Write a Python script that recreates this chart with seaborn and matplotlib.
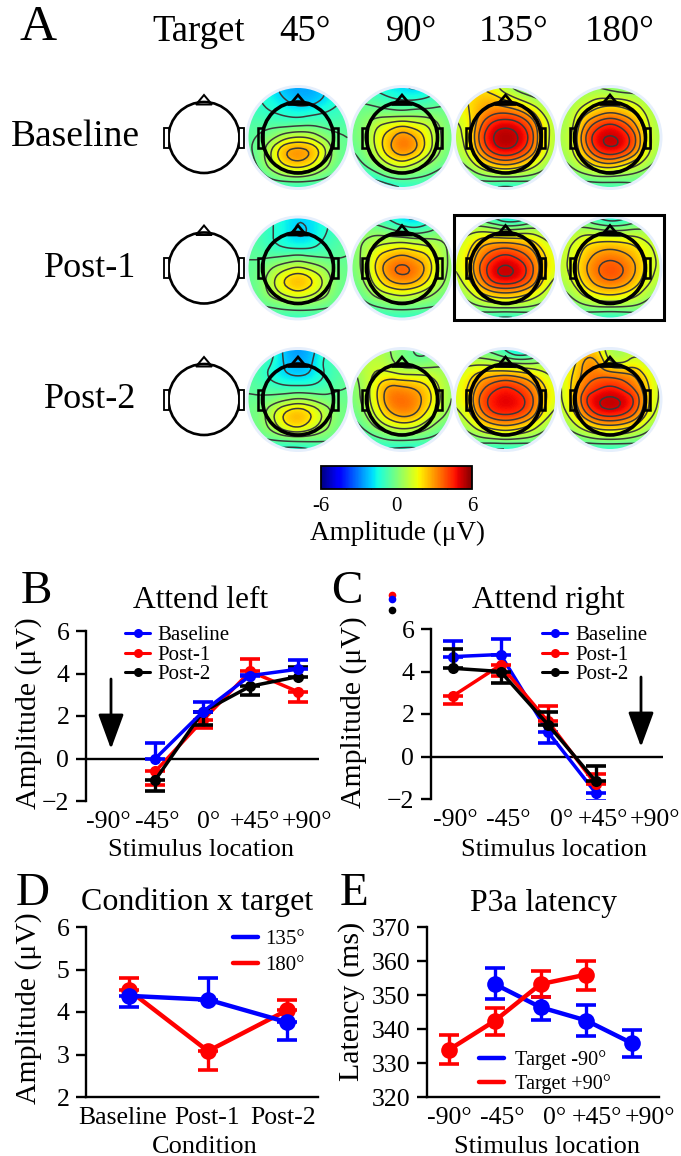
import numpy as np
import pandas as pd
import matplotlib
matplotlib.use('Agg')
import matplotlib.pyplot as plt
import seaborn as sns
from matplotlib.cm import ScalarMappable
from matplotlib.colors import Normalize
from matplotlib.lines import Line2D
from matplotlib.patches import Circle, Polygon, Rectangle

# panel A: amplitude, rows run from nose to back of head
b45 = [[-1.0,-1.4,-1.8,-2.4,-2.6,-2.6,-2.2,-1.6,-1.0],
       [-0.9,-1.2,-1.6,-2.0,-2.4,-2.4,-2.0,-1.4,-1.0],
       [-0.8,-1.0,-1.2,-1.4,-1.6,-1.4,-1.2,-1.0,-0.8],
       [-0.6,-0.6,-0.6,-0.7,-0.6,-0.5,-0.6,-0.7,-0.6],
       [-0.5,-0.3, 0.2, 1.0, 1.3, 1.1, 0.3,-0.2,-0.4],
       [-0.5,-0.1, 1.6, 3.0, 3.3, 3.0, 1.8,-0.1,-0.4],
       [-0.7,-0.1, 1.4, 2.6, 3.0, 2.5, 1.2,-0.1,-0.5],
       [-1.0,-0.6, 0.0, 0.6, 0.8, 0.5,-0.1,-0.5,-0.8],
       [-1.2,-1.0,-1.0,-1.2,-1.2,-1.2,-1.0,-1.0,-1.0]]
b90 = [[-0.8,-1.0,-1.4,-1.8,-2.0,-2.2,-2.0,-1.2,-0.8],
       [-0.4,-0.5,-0.7,-1.0,-1.2,-1.2,-1.0,-0.7,-0.5],
       [-0.2,-0.1,-0.1,-0.2,-0.3,-0.1,-0.1,-0.1,-0.2],
       [-0.2, 0.2, 1.2, 1.6, 2.0, 1.6, 1.3, 0.4,-0.2],
       [-0.2, 0.3, 1.6, 2.6, 3.6, 3.0, 1.8, 0.5,-0.2],
       [-0.4, 0.1, 1.4, 2.8, 3.6, 3.2, 1.7, 0.5,-0.3],
       [-0.8,-0.2, 0.6, 1.5, 2.0, 1.4, 0.6, 0.0,-0.5],
       [-1.4,-1.1,-0.6, 0.0, 0.2,-0.1,-0.4,-0.7,-1.0],
       [-2.0,-2.0,-1.9,-1.6,-1.3,-1.2,-1.0,-1.0,-1.0]]
b135 = [[ 1.8, 1.8, 2.0, 1.5, 0.6, 0.0,-0.2,-0.2,-0.2],
        [ 1.8, 2.0, 2.5, 2.6, 2.0, 1.3, 0.7, 0.3, 0.0],
        [ 1.4, 1.9, 2.8, 3.4, 3.6, 3.3, 2.4, 1.1, 0.5],
        [ 1.0, 1.6, 3.6, 4.9, 5.2, 4.9, 3.8, 1.8, 0.7],
        [ 0.8, 1.6, 4.2, 5.4, 5.6, 5.4, 4.4, 1.8, 0.7],
        [ 0.6, 1.4, 3.6, 5.0, 5.4, 5.0, 3.8, 1.7, 0.6],
        [ 0.1, 0.8, 2.0, 3.0, 3.4, 3.0, 2.0, 1.0, 0.2],
        [-0.5,-0.2, 0.4, 0.8, 0.9, 0.8, 0.5, 0.1,-0.3],
        [-1.0,-1.0,-1.2,-1.4,-1.6,-1.4,-1.2,-0.8,-0.6]]
b180 = [[-0.1, 0.0, 0.2, 0.3, 0.1,-0.2,-0.1, 0.0,-0.1],
        [ 0.2, 0.5, 0.9, 1.4, 1.4, 1.4, 1.0, 0.5, 0.2],
        [ 0.4, 0.9, 1.8, 2.4, 2.8, 2.5, 2.0, 1.0, 0.5],
        [ 0.5, 1.0, 3.0, 4.2, 4.8, 4.2, 3.0, 1.3, 0.5],
        [ 0.6, 1.2, 3.8, 5.2, 5.4, 5.2, 4.0, 1.5, 0.6],
        [ 0.5, 1.1, 3.2, 4.8, 5.3, 5.0, 3.6, 1.5, 0.5],
        [ 0.2, 0.7, 1.7, 2.8, 3.2, 2.6, 1.7, 0.8, 0.1],
        [-0.3, 0.0, 0.3, 0.6, 0.6, 0.4, 0.2,-0.1,-0.3],
        [-0.6,-0.8,-1.0,-1.0,-1.0,-0.9,-0.7,-0.6,-0.5]]
p45 = [[-0.6,-0.8,-1.2,-1.6,-2.0,-1.8,-1.4,-1.0,-0.6],
       [-0.4,-0.8,-1.2,-1.6,-2.2,-2.0,-1.4,-0.9,-0.5],
       [-0.4,-0.8,-1.2,-1.6,-1.9,-1.7,-1.1,-0.7,-0.4],
       [-0.4,-0.5,-0.6,-0.5,-0.3,-0.5,-0.6,-0.5,-0.4],
       [-0.4,-0.2, 0.5, 1.0, 1.4, 1.0, 0.5,-0.1,-0.3],
       [-0.4, 0.0, 1.2, 2.4, 3.0, 2.4, 1.3, 0.0,-0.3],
       [-0.6,-0.1, 0.9, 1.6, 2.0, 1.6, 0.9,-0.1,-0.5],
       [-0.8,-0.4,-0.3, 0.0, 0.2, 0.0,-0.2,-0.4,-0.7],
       [-0.9,-0.8,-0.9,-1.1,-1.2,-1.0,-0.9,-0.8,-0.8]]
p90 = [[-0.4,-0.6,-0.9,-1.4,-2.0,-2.3,-1.8,-0.9,-0.5],
       [-0.1, 0.1, 0.1,-0.2,-0.6,-0.9,-0.6,-0.1, 0.0],
       [ 0.1, 0.5, 1.0, 1.2, 1.4, 1.2, 1.0, 0.6, 0.2],
       [-0.1, 0.7, 2.0, 2.6, 3.0, 2.6, 2.2, 1.0, 0.1],
       [-0.1, 0.7, 2.4, 3.6, 4.0, 3.6, 2.8, 1.0, 0.1],
       [-0.3, 0.5, 1.8, 3.0, 3.4, 3.2, 2.2, 0.8, 0.0],
       [-0.6, 0.0, 0.9, 1.3, 1.6, 1.3, 0.8, 0.2,-0.3],
       [-1.0,-0.6,-0.3, 0.0, 0.1, 0.0,-0.2,-0.4,-0.7],
       [-1.2,-1.2,-1.2,-1.2,-1.2,-1.2,-1.2,-1.0,-0.9]]
p135 = [[-0.3,-0.5,-0.8,-1.4,-2.0,-2.0,-1.2,-0.6,-0.3],
        [ 0.6, 1.0, 1.2, 1.0, 0.6, 0.8, 0.9, 0.6, 0.3],
        [ 1.2, 1.6, 2.6, 2.9, 3.0, 2.8, 2.5, 1.6, 1.0],
        [ 1.2, 2.0, 3.3, 4.2, 4.7, 4.2, 3.4, 2.2, 1.4],
        [ 1.2, 2.2, 3.9, 5.2, 5.5, 5.2, 4.2, 2.3, 1.4],
        [ 0.8, 1.8, 3.4, 4.9, 5.2, 4.9, 3.8, 2.0, 1.0],
        [ 0.2, 1.0, 2.0, 2.6, 2.8, 2.6, 2.0, 1.2, 0.4],
        [-0.4, 0.1, 0.6, 0.9, 1.0, 0.9, 0.6, 0.2,-0.2],
        [-1.0,-1.0,-1.2,-1.4,-1.6,-1.4,-1.1,-0.8,-0.6]]
p180 = [[-0.2,-0.4,-0.7,-1.4,-1.8,-1.6,-1.0,-0.5,-0.2],
        [ 0.4, 0.7, 0.9, 0.7, 0.5, 0.5, 0.7, 0.5, 0.2],
        [ 0.9, 1.2, 1.9, 2.2, 2.3, 2.2, 1.9, 1.3, 0.8],
        [ 0.9, 1.4, 2.4, 3.1, 3.4, 3.1, 2.6, 1.6, 1.0],
        [ 0.9, 1.5, 2.8, 3.7, 4.1, 3.8, 3.0, 1.7, 1.0],
        [ 0.6, 1.3, 2.4, 3.4, 3.8, 3.5, 2.6, 1.5, 0.7],
        [ 0.1, 0.7, 1.6, 2.1, 2.3, 2.1, 1.6, 0.8, 0.2],
        [-0.4, 0.0, 0.4, 0.7, 0.8, 0.7, 0.5, 0.1,-0.2],
        [-1.0,-1.0,-1.0,-1.3,-1.5,-1.3,-1.0,-0.8,-0.6]]
q45 = [[-0.6,-0.7,-1.0,-2.4,-2.8,-2.4,-1.4,-0.8,-0.6],
       [-0.5,-0.8,-1.2,-2.2,-2.6,-2.2,-1.1,-0.7,-0.5],
       [-0.5,-0.9,-1.6,-2.0,-2.2,-2.0,-1.3,-0.7,-0.4],
       [-0.5,-0.6,-0.9,-1.1,-1.1,-1.1,-0.9,-0.5,-0.4],
       [-0.3,-0.3,-0.1, 0.2, 0.5, 0.3,-0.1,-0.2,-0.3],
       [-0.2, 0.0, 1.2, 2.3, 2.8, 2.2, 1.2, 0.1,-0.2],
       [-0.3, 0.0, 1.0, 2.2, 2.7, 1.9, 1.0, 0.0,-0.3],
       [-0.6,-0.3, 0.0, 0.3, 0.4, 0.3, 0.0,-0.2,-0.4],
       [-1.2,-1.2,-1.4,-1.6,-1.6,-1.4,-1.0,-0.8,-0.7]]
q90 = [[ 0.6, 0.7, 0.8, 0.4, 0.0,-0.5,-0.6,-0.2, 0.1],
       [ 0.5, 0.9, 1.0, 0.6,-0.2,-0.3,-0.2, 0.2, 0.3],
       [ 0.2, 0.8, 1.4, 1.4, 1.2, 1.2, 1.2, 0.8, 0.4],
       [ 0.0, 0.7, 2.0, 3.2, 3.0, 2.8, 2.2, 1.2, 0.3],
       [-0.1, 0.7, 2.0, 3.6, 3.7, 3.4, 2.5, 1.3, 0.3],
       [-0.3, 0.4, 1.6, 2.9, 3.5, 3.2, 2.0, 1.0, 0.1],
       [-0.7,-0.1, 0.8, 1.5, 1.9, 1.7, 0.9, 0.1,-0.4],
       [-1.1,-0.8,-0.4, 0.0, 0.1, 0.0,-0.3,-0.6,-1.0],
       [-1.3,-1.3,-1.4,-1.4,-1.5,-1.5,-1.2,-1.1,-1.0]]
q135 = [[-0.3,-0.4,-0.5,-0.8,-1.4,-2.4,-2.0,-0.6,-0.2],
        [ 0.8, 1.0, 0.9, 0.7, 0.3, 0.2, 0.2, 0.4, 0.4],
        [ 1.4, 1.7, 2.4, 2.6, 2.8, 2.6, 2.2, 1.5, 1.0],
        [ 1.4, 2.0, 3.3, 4.2, 4.7, 4.2, 3.4, 2.2, 1.4],
        [ 1.3, 2.2, 4.0, 4.9, 5.0, 4.9, 4.2, 2.3, 1.4],
        [ 1.0, 1.8, 3.6, 4.7, 4.9, 4.7, 3.8, 2.0, 1.0],
        [ 0.3, 1.0, 2.1, 2.8, 3.1, 2.8, 2.1, 1.0, 0.3],
        [-0.4, 0.0, 0.5, 0.8, 1.0, 0.8, 0.5, 0.0,-0.4],
        [-1.0,-1.0,-1.2,-1.5,-1.5,-1.4,-1.2,-0.9,-0.8]]
q180 = [[ 1.0, 1.2, 2.4, 2.2, 0.4, 0.4, 1.0, 0.6, 0.3],
        [ 1.2, 1.6, 3.2, 3.0, 1.0, 0.9, 1.6, 1.0, 0.6],
        [ 1.2, 2.0, 3.2, 3.4, 3.4, 3.2, 2.8, 1.8, 1.0],
        [ 1.0, 2.2, 3.6, 4.2, 4.6, 4.2, 3.4, 2.2, 1.0],
        [ 1.0, 2.2, 4.6, 5.3, 5.5, 5.3, 4.6, 2.2, 1.0],
        [ 0.8, 1.8, 3.8, 5.0, 5.3, 5.0, 4.0, 2.0, 0.8],
        [ 0.2, 1.0, 2.0, 2.8, 3.0, 2.8, 2.2, 1.0, 0.2],
        [-0.4, 0.0, 0.4, 0.8, 0.9, 0.8, 0.4, 0.0,-0.4],
        [-0.9,-1.0,-1.2,-1.3,-1.3,-1.3,-1.1,-0.8,-0.6]]

locations = ['-90°', '-45°', '0°', '+45°', '+90°']
conditions = ['Baseline', 'Post-1', 'Post-2']

# panel B, x is the index into locations
left_x = [1, 2, 3, 4]
left_base = [0.0, 2.2, 3.9, 4.2]
left_base_cap = [0.75, 2.65, 3.95, 4.65]
left_post1 = [-0.6, 1.8, 4.1, 3.15]
left_post1_cap = [-1.25, 1.45, 4.7, 2.65]
left_post2 = [-1.0, 2.2, 3.4, 3.85]
left_post2_cap = [-1.55, 1.6, 3.0, 4.3]

# panel C
right_x = [0, 1, 2, 3]
right_base = [4.7, 4.8, 1.15, -1.7]
right_base_cap = [5.45, 5.55, 0.65, -2.1]
right_post1 = [2.85, 4.3, 1.65, -1.3]
right_post1_cap = [2.45, 3.8, 2.4, -0.8]
right_post2 = [4.15, 4.0, 1.5, -1.15]
right_post2_cap = [5.05, 3.45, 2.1, -0.45]

# panel D
cond_135 = [4.38, 4.29, 3.76]
cond_135_cap = [4.12, 4.81, 3.33]
cond_180 = [4.51, 3.08, 4.04]
cond_180_cap = [4.81, 2.63, 4.29]

# panel E
lat_minus_x = [1, 2, 3, 4]
lat_minus = [353.2, 346.4, 342.5, 335.8]
lat_minus_hi = [358.0, 349.5, 347.0, 339.7]
lat_minus_lo = [348.7, 342.7, 338.0, 331.9]
lat_plus_x = [0, 1, 2, 3]
lat_plus = [333.9, 342.4, 353.2, 356.0]
lat_plus_hi = [338.3, 346.3, 357.1, 360.0]
lat_plus_lo = [329.7, 338.3, 349.5, 351.6]

W, H = 681, 1156
BLUE, RED = '#0000ff', '#ff0000'

sns.set_theme(style='ticks')
plt.rcParams['font.family'] = ['Liberation Serif', 'DejaVu Serif']
plt.rcParams['text.color'] = 'black'
plt.rcParams['axes.labelcolor'] = 'black'
plt.rcParams['xtick.color'] = 'black'
plt.rcParams['ytick.color'] = 'black'
plt.rcParams['axes.edgecolor'] = 'black'

fig = plt.figure(figsize=(W / 100, H / 100), dpi=100, facecolor='white')

# full page axes in pixels, y going down, for panel A and the loose text
ov = fig.add_axes([0, 0, 1, 1], zorder=5)
ov.set_xlim(0, W)
ov.set_ylim(H, 0)
ov.axis('off')


def draw_head(cx, cy, lw):
    ov.add_patch(Polygon([[cx - 8, cy - 33], [cx, cy - 42.5], [cx + 8, cy - 33]], closed=True,
                         fc='none', ec='black', lw=lw * 0.75, zorder=6))
    ov.add_patch(Circle((cx, cy), 35.5, fc='none', ec='black', lw=lw, zorder=6))
    for side in (-1, 1):
        ex = cx + side * 37.5
        ov.add_patch(Rectangle((ex - 2.3, cy - 10), 4.6, 20, fc='white' if lw < 2.2 else 'none',
                               ec='black', lw=lw * 0.7, zorder=6))


def soften(grid):
    # only so the contour lines come out round instead of angular, like bicubic on the image
    nodes = np.arange(9)
    fine = np.linspace(0, 8, 41)
    out = np.array([np.interp(fine, nodes, r) for r in grid])
    out = np.array([np.interp(fine, nodes, c) for c in out.T]).T
    kernel = np.ones(5) / 5
    pad = np.pad(out, 2, mode='edge')
    pad = np.apply_along_axis(lambda v: np.convolve(v, kernel, mode='same'), 0, pad)
    pad = np.apply_along_axis(lambda v: np.convolve(v, kernel, mode='same'), 1, pad)
    return pad[2:-2, 2:-2]


def draw_map(grid, cx, cy, r=49.5):
    grid = np.array(grid)
    ov.add_patch(Circle((cx, cy), r + 3, fc='#e6effc', ec='none', zorder=1))
    clip = Circle((cx, cy), r, fc='none', ec='none', transform=ov.transData)
    ov.add_patch(clip)
    step = r / 4
    im = ov.imshow(grid, cmap='jet', vmin=-6, vmax=6, interpolation='bicubic', aspect='auto',
                   extent=(cx - r - step / 2, cx + r + step / 2, cy + r + step / 2, cy - r - step / 2),
                   zorder=2)
    im.set_clip_path(clip)
    gx = np.linspace(cx - r, cx + r, 41)
    gy = np.linspace(cy - r, cy + r, 41)
    cs = ov.contour(gx, gy, soften(grid), levels=[-2, -1.2, -0.4, 0.4, 1.2, 2, 2.8, 3.6, 4.4, 5.2],
                    colors='#3a3a3a', linewidths=1.1, negative_linestyles='solid', zorder=3)
    cs.set_clip_path(clip)
    draw_head(cx, cy, 2.6)


row_y = [137.5, 268, 399.5]
col_x = [298, 402, 505.5, 610]
maps = [[b45, b90, b135, b180], [p45, p90, p135, p180], [q45, q90, q135, q180]]
for i, row in enumerate(maps):
    draw_head(204, row_y[i], 1.9)
    for j, grid in enumerate(row):
        draw_map(grid, col_x[j], row_y[i])

ov.add_patch(Rectangle((454, 215), 210, 105, fc='none', ec='black', lw=2.2, zorder=7))

# header and row names
for x, s in zip([199, 305, 411, 514, 620], ['Target', '45°', '90°', '135°', '180°']):
    ov.text(x, 41, s, fontsize=26.5, ha='center', va='baseline')
for y, s, x, fs in zip([146, 277, 408], ['Baseline', 'Post-1', 'Post-2'], [140, 136, 136], [27, 26, 26]):
    ov.text(x, y, s, fontsize=fs, ha='right', va='baseline')
for x, y, s, fs in zip([20, 21, 331, 16, 340], [40, 603, 603, 905, 905], ['A', 'B', 'C', 'D', 'E'],
                       [37, 34, 34, 34, 34]):
    ov.text(x, y, s, fontsize=fs, ha='left', va='baseline')

# colorbar
cax = fig.add_axes([321 / W, 1 - 489 / H, 151 / W, 23 / H])
cb = fig.colorbar(ScalarMappable(Normalize(-6, 6), 'jet'), cax=cax, orientation='horizontal')
cb.outline.set_linewidth(1.3)
cb.set_ticks([-6, 0, 6], labels=['-6', '0', '6'])
cax.set_xticks([-4, -2, 0, 2, 4], minor=True)
cax.tick_params(axis='x', which='major', length=0, labelsize=15, pad=6)
cax.tick_params(axis='x', which='minor', direction='in', length=2.5, width=1, top=True, bottom=True)
ov.text(397, 540, 'Amplitude (μV)', fontsize=19.5, ha='center', va='baseline')


def add_panel(left, right, top, bottom, first_px, step_px, ylim, yticks, label_px, labels, zero_line):
    ax = fig.add_axes([left / W, 1 - bottom / H, (right - left) / W, (bottom - top) / H])
    ax.set_xlim((left - first_px) / step_px, (right - first_px) / step_px)
    ax.set_ylim(*ylim)
    ax.set_yticks(yticks)
    ax.set_xticks((np.array(label_px) - first_px) / step_px, labels)
    ax.tick_params(axis='y', length=7, width=1.7, pad=5, labelsize=18.5)
    ax.tick_params(axis='x', length=0, pad=7, labelsize=18.5)
    sns.despine(ax=ax)
    ax.spines['left'].set_linewidth(1.7)
    ax.spines['bottom'].set_linewidth(1.7)
    if zero_line:
        ax.spines['bottom'].set_visible(False)
        ax.axhline(0, color='black', lw=1.7, zorder=1)
    ax.patch.set_alpha(0)
    return ax


def draw_series(ax, xs, ys, lo, hi, color, ms, lw):
    ys, lo, hi = np.array(ys), np.array(lo), np.array(hi)
    df = pd.DataFrame({'x': xs, 'y': ys})
    ax.errorbar(xs, ys, yerr=[ys - lo, hi - ys], fmt='none', ecolor=color, elinewidth=2.4,
                capsize=7.2, capthick=2.6)
    sns.lineplot(data=df, x='x', y='y', color=color, marker='o', markersize=ms, lw=lw, ax=ax,
                 errorbar=None, sort=False, markeredgewidth=0, markeredgecolor=color)
    ax.set_xlabel('')
    ax.set_ylabel('')


def one_sided(vals, caps):
    return np.minimum(vals, caps), np.maximum(vals, caps)


def arrow(ax, x, y0, y1):
    ax.annotate('', xy=(x, y1), xytext=(x, y0), xycoords=ov.transData, textcoords=ov.transData,
                arrowprops=dict(arrowstyle='-|>,head_length=1.2,head_width=0.44', color='black', lw=2,
                                mutation_scale=18, shrinkA=0, shrinkB=0))


def line_legend(ax, handles, labels, x, y, fontsize, textpad, spacing):
    ax.legend(handles, labels, loc='center left', bbox_to_anchor=(x, y), bbox_transform=ov.transData,
              frameon=False, borderpad=0, borderaxespad=0, handlelength=25 / (fontsize / 0.72),
              handletextpad=textpad / (fontsize / 0.72), labelspacing=spacing, fontsize=fontsize)


def marker_handles():
    return [Line2D([], [], color=c, lw=2.2, marker='o', ms=6.5, mew=0) for c in (BLUE, RED, 'black')]


# B
ax_b = add_panel(86, 319, 631, 801, 108, 47.4, (-2, 6), [-2, 0, 2, 4, 6],
                 [108, 157, 209, 255, 307], locations, True)
draw_series(ax_b, left_x, left_post1, *one_sided(left_post1, left_post1_cap), RED, 8, 2.5)
draw_series(ax_b, left_x, left_post2, *one_sided(left_post2, left_post2_cap), 'black', 8, 2.5)
draw_series(ax_b, left_x, left_base, *one_sided(left_base, left_base_cap), BLUE, 8, 2.5)
arrow(ax_b, 111, 679, 749)
line_legend(ax_b, marker_handles(), conditions, 125, 655, 15, 7, 0.0)

# C
ax_c = add_panel(431, 663, 629, 799, 453, 47.5, (-2, 6), [-2, 0, 2, 4, 6],
                 [455, 508, 562, 603, 655], locations, True)
draw_series(ax_c, right_x, right_base, *one_sided(right_base, right_base_cap), BLUE, 8, 2.5)
draw_series(ax_c, right_x, right_post1, *one_sided(right_post1, right_post1_cap), RED, 8, 2.5)
draw_series(ax_c, right_x, right_post2, *one_sided(right_post2, right_post2_cap), 'black', 8, 2.5)
arrow(ax_c, 641, 677, 747)
line_legend(ax_c, marker_handles(), conditions, 542, 655, 15, 8, 0.0)

# stray legend dots next to panel C
for y, c in zip([595, 599, 610], [RED, BLUE, 'black']):
    ov.plot([392], [y], 'o', color=c, ms=5.5, mew=0)

# D
ax_d = add_panel(86, 318, 927, 1097, 129, 79, (2, 6), [2, 3, 4, 5, 6],
                 [123, 207, 283], conditions, False)
draw_series(ax_d, [0, 1, 2], cond_180, *one_sided(cond_180, cond_180_cap), RED, 12, 3.2)
draw_series(ax_d, [0, 1, 2], cond_135, *one_sided(cond_135, cond_135_cap), BLUE, 12, 3.2)
line_legend(ax_d, [Line2D([], [], color=BLUE, lw=3.2), Line2D([], [], color=RED, lw=3.2)],
            ['135°', '180°'], 233, 952.5, 15, 7, 0.3)

# E
ax_e = add_panel(427, 659, 927, 1097, 449, 45.75, (320, 370), [320, 330, 340, 350, 360, 370],
                 [449, 502, 555, 597, 650], locations, False)
draw_series(ax_e, lat_minus_x, lat_minus, lat_minus_lo, lat_minus_hi, BLUE, 12, 3.2)
draw_series(ax_e, lat_plus_x, lat_plus, lat_plus_lo, lat_plus_hi, RED, 12, 3.2)
line_legend(ax_e, [Line2D([], [], color=BLUE, lw=3.2), Line2D([], [], color=RED, lw=3.2)],
            ['Target -90°', 'Target +90°'], 479, 1072.5, 14.6, 11, 0.2)

# titles, axis names
for x, y, s, fs in [(201, 608, 'Attend left', 22.7), (548, 608, 'Attend right', 22.7),
                    (197, 910, 'Condition x target', 23), (543, 911, 'P3a latency', 22.8)]:
    ov.text(x, y, s, fontsize=fs, ha='center', va='baseline')
for x, y, s in [(201, 856, 'Stimulus location'), (554, 856, 'Stimulus location'),
                (205, 1153, 'Condition'), (547, 1153, 'Stimulus location')]:
    ov.text(x, y, s, fontsize=19, ha='center', va='baseline')
for x, y, s, fs in [(29, 713, 'Amplitude (μV)', 21.4), (354, 712, 'Amplitude (μV)', 21.4),
                    (29, 1008, 'Amplitude (μV)', 21.4), (352, 1001, 'Latency (ms)', 21.6)]:
    ov.text(x, y, s, fontsize=fs, rotation=90, ha='center', va='center')

fig.savefig('out.png', dpi=100)
